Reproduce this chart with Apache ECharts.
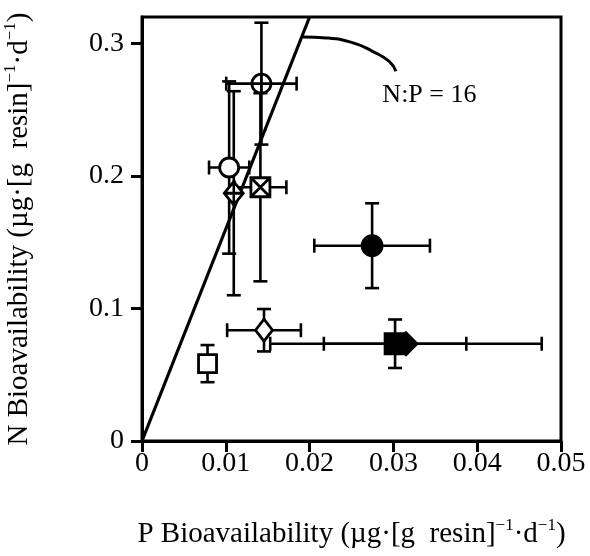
<!DOCTYPE html>
<html>
<head>
<meta charset="utf-8">
<script src="https://cdn.jsdelivr.net/npm/echarts@6/dist/echarts.min.js"></script>
<style>
  html, body { margin: 0; padding: 0; background: #fff; }
  #chart { width: 590px; height: 556px; }
</style>
</head>
<body>
<div id="chart"></div>
<script>
// data
const xTicks = [0, 0.01, 0.02, 0.03, 0.04, 0.05]
const xTickLabels = ['0', '0.01', '0.02', '0.03', '0.04', '0.05']
const yTicks = [0, 0.1, 0.2, 0.3]
const yTickLabels = ['0', '0.1', '0.2', '0.3']

// one entry per point
const pX    = [0.01425, 0.0104, 0.01095, 0.01413, 0.02746, 0.01456, 0.00782, 0.0302, 0.0315]
const pY    = [0.2697, 0.2064, 0.187, 0.1915, 0.1474, 0.0836, 0.0584, 0.0734, 0.0734]
const pXErr = [0.0042, 0.0024, 0, 0.0031, 0.0069, 0.0044, 0, 0.0085, 0.0162]
const pYErr = [0.046, 0.065, 0.077, 0.071, 0.032, 0.016, 0.014, 0.0183, 0]

// N:P = 16 reference line and its leader
const ratioValue = 16
const ratioLineX = [0, 0.02]
const leaderX = [0.0192, 0.022, 0.0252, 0.0275, 0.0295, 0.0303]
const leaderY = [0.305, 0.3042, 0.3005, 0.2941, 0.2865, 0.279]
const ratioLabel = 'N:P = 16'
const ratioLabelAt = [0.0343, 0.2613]

const serif = '"Liberation Serif", "Times New Roman", serif'

// marker look per point (same order as the arrays above)
const markerStyles = [
  { symbol: 'path://M0,-10A10,10 0 1,1 0,10A10,10 0 1,1 0,-10ZM-10,0L10,0M0,-10L0,10', size: 19, fill: '#fff' },
  { symbol: 'circle', size: 19, fill: '#fff' },
  { symbol: 'path://M0,-12L10,0L0,12L-10,0ZM-10,0L10,0M0,-12L0,12', size: [19, 23], fill: '#fff' },
  { symbol: 'path://M-10,-10L10,-10L10,10L-10,10ZM-10,-10L10,10M10,-10L-10,10', size: 19, fill: '#fff' },
  { symbol: 'circle', size: 20, fill: '#000' },
  { symbol: 'diamond', size: [17, 22], fill: '#fff' },
  { symbol: 'rect', size: 18, fill: '#fff' },
  { symbol: 'rect', size: 20, fill: '#000' },
  { symbol: 'diamond', size: [22, 22], fill: '#000' }
]

const chart = echarts.init(document.getElementById('chart'), null, { renderer: 'canvas' })

const errData = pX.map((x, i) => [x, pY[i], pXErr[i], pYErr[i]])

const renderErr = (params, api) => {
  const x = api.value(0)
  const y = api.value(1)
  const ex = api.value(2)
  const ey = api.value(3)
  const cap = 7
  const style = { stroke: '#000', lineWidth: 2.6 }
  const kids = []
  const seg = (x1, y1, x2, y2) => kids.push({ type: 'line', shape: { x1, y1, x2, y2 }, style })
  if (ex > 0) {
    const a = api.coord([x - ex, y])
    const b = api.coord([x + ex, y])
    seg(a[0], a[1], b[0], b[1])
    seg(a[0], a[1] - cap, a[0], a[1] + cap)
    seg(b[0], b[1] - cap, b[0], b[1] + cap)
  }
  if (ey > 0) {
    const a = api.coord([x, y - ey])
    const b = api.coord([x, y + ey])
    seg(a[0], a[1], b[0], b[1])
    seg(a[0] - cap, a[1], a[0] + cap, a[1])
    seg(b[0] - cap, b[1], b[0] + cap, b[1])
  }
  return { type: 'group', children: kids }
}

const richName = {
  t: { fontFamily: serif, fontSize: 29, color: '#000', lineHeight: 34 },
  s: { fontFamily: serif, fontSize: 17, color: '#000', verticalAlign: 'top', lineHeight: 34 }
}

const option = {
  animation: false,
  backgroundColor: '#fff',
  grid: {
    left: 142,
    right: 29,
    top: 17,
    bottom: 115,
    outerBoundsMode: 'none',
    show: true,
    borderColor: '#000',
    borderWidth: 3,
    backgroundColor: 'transparent'
  },
  xAxis: {
    type: 'value',
    min: 0,
    max: 0.05,
    interval: 0.01,
    name: '{t|P Bioavailability (µg·[g  resin]}{s|−1}{t|·d}{s|−1}{t|)}',
    nameLocation: 'middle',
    nameGap: 76,
    nameTextStyle: { rich: richName },
    axisLine: { lineStyle: { color: '#000', width: 3 } },
    axisTick: { customValues: xTicks, length: 11, lineStyle: { color: '#000', width: 3 } },
    axisLabel: {
      customValues: xTicks,
      margin: 9,
      color: '#000',
      fontFamily: serif,
      fontSize: 28,
      formatter: (v) => xTickLabels[xTicks.findIndex((t) => Math.abs(t - v) < 1e-9)]
    },
    splitLine: { show: false }
  },
  yAxis: {
    type: 'value',
    min: 0,
    max: 0.32,
    interval: 0.1,
    name: '{t|N Bioavailability (µg·[g  resin]}{s|−1}{t|·d}{s|−1}{t|)}',
    nameLocation: 'middle',
    nameGap: 106,
    nameTextStyle: { rich: richName },
    axisLine: { lineStyle: { color: '#000', width: 3 } },
    axisTick: { customValues: yTicks, length: 11, lineStyle: { color: '#000', width: 3 } },
    axisLabel: {
      customValues: yTicks,
      margin: 18,
      color: '#000',
      fontFamily: serif,
      fontSize: 28,
      formatter: (v) => yTickLabels[yTicks.findIndex((t) => Math.abs(t - v) < 1e-9)]
    },
    splitLine: { show: false }
  },
  series: [
    {
      type: 'custom',
      z: 2,
      renderItem: renderErr,
      encode: { x: 0, y: 1 },
      data: errData,
      silent: true
    },
    {
      type: 'line',
      z: 3,
      data: ratioLineX.map((x) => [x, x * ratioValue]),
      symbol: 'none',
      lineStyle: { color: '#000', width: 3.2 },
      silent: true
    },
    {
      type: 'line',
      z: 3,
      smooth: true,
      data: leaderX.map((x, i) => [x, leaderY[i]]),
      symbol: 'none',
      lineStyle: { color: '#000', width: 3 },
      silent: true
    },
    {
      type: 'scatter',
      z: 3,
      data: [ratioLabelAt],
      symbolSize: 0,
      itemStyle: { opacity: 1 },
      label: {
        show: true,
        position: 'inside',
        formatter: ratioLabel,
        color: '#000',
        fontFamily: serif,
        fontSize: 26
      },
      silent: true
    },
    ...pX.map((x, i) => ({
      type: 'scatter',
      z: 4,
      data: [[x, pY[i]]],
      symbol: markerStyles[i].symbol,
      symbolSize: markerStyles[i].size,
      itemStyle: {
        color: markerStyles[i].fill,
        borderColor: '#000',
        borderWidth: 2.8,
        opacity: 1
      },
      silent: true
    }))
  ]
}

chart.setOption(option)
</script>
</body>
</html>
